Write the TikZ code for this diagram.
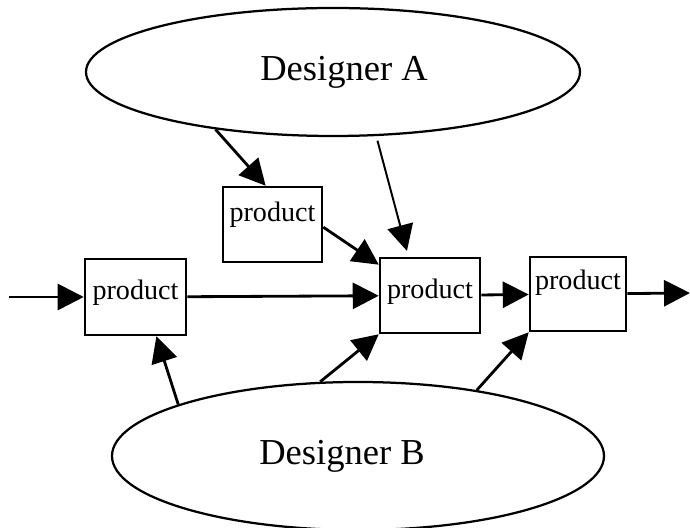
\documentclass[tikz,border=0pt]{standalone}
\usepackage{fontspec}
\setmainfont{Liberation Serif}
\usetikzlibrary{arrows.meta,shapes.geometric}

\begin{document}
\begin{tikzpicture}[
    designer/.style={draw, ellipse, line width=1.6pt, inner sep=0pt, font=\fontsize{26}{30}\selectfont},
    box/.style={draw, rectangle, line width=1.8pt, inner sep=0pt, text depth=10pt, font=\fontsize{20}{24}\selectfont},
    arr/.style={-{Triangle[length=0.65cm, width=0.65cm]}, line width=2pt},
    thinarr/.style={arr, line width=1.4pt},
]
\useasboundingbox (0,0) rectangle (17.25,13.2);

% === Designers ===
\node[designer, minimum width=12.35cm, minimum height=3.2cm] (desA) at (8.325, 11.4) {\hspace*{0.55cm}Designer A};
\node[designer, minimum width=12.3cm, minimum height=3.7cm] (desB) at (8.95, 1.8) {Designer B\hspace*{0.8cm}};

% === Products ===
\node[box, minimum width=2.525cm, minimum height=1.9cm] (p1) at (3.3875, 5.775) {product};
\node[box, minimum width=2.475cm, minimum height=1.875cm, text depth=18pt] (p2) at (6.8125, 7.5875) {product};
\node[box, minimum width=2.5cm, minimum height=1.875cm] (p3) at (10.75, 5.8125) {product};
\node[box, minimum width=2.4cm, minimum height=1.85cm, text depth=20pt] (p4) at (14.45, 5.85) {product};

\coordinate (src) at (0.225, 5.775);
\coordinate (sink) at (17.25, 5.875);

% Main flow
\draw[arr] (src) -- (p1);
\draw[arr] (p1) -- (p3);
\draw[arr] (p3) -- (p4);
\draw[arr] (p4) -- (sink);

% Designer A
\draw[arr] (desA.206) -- (p2.100);
\draw[thinarr, shorten <=0.12cm, shorten >=0.15cm] (desA.-56) -- (p3.119);
\draw[arr] (p2.-3) -- (p3.149);

% Designer B
\draw[arr] (desB.164) -- (p1.-62);
\draw[arr] (desB.117) -- (p3.south west);
\draw[arr] (desB.29) -- (p4.south west);

\end{tikzpicture}
\end{document}
